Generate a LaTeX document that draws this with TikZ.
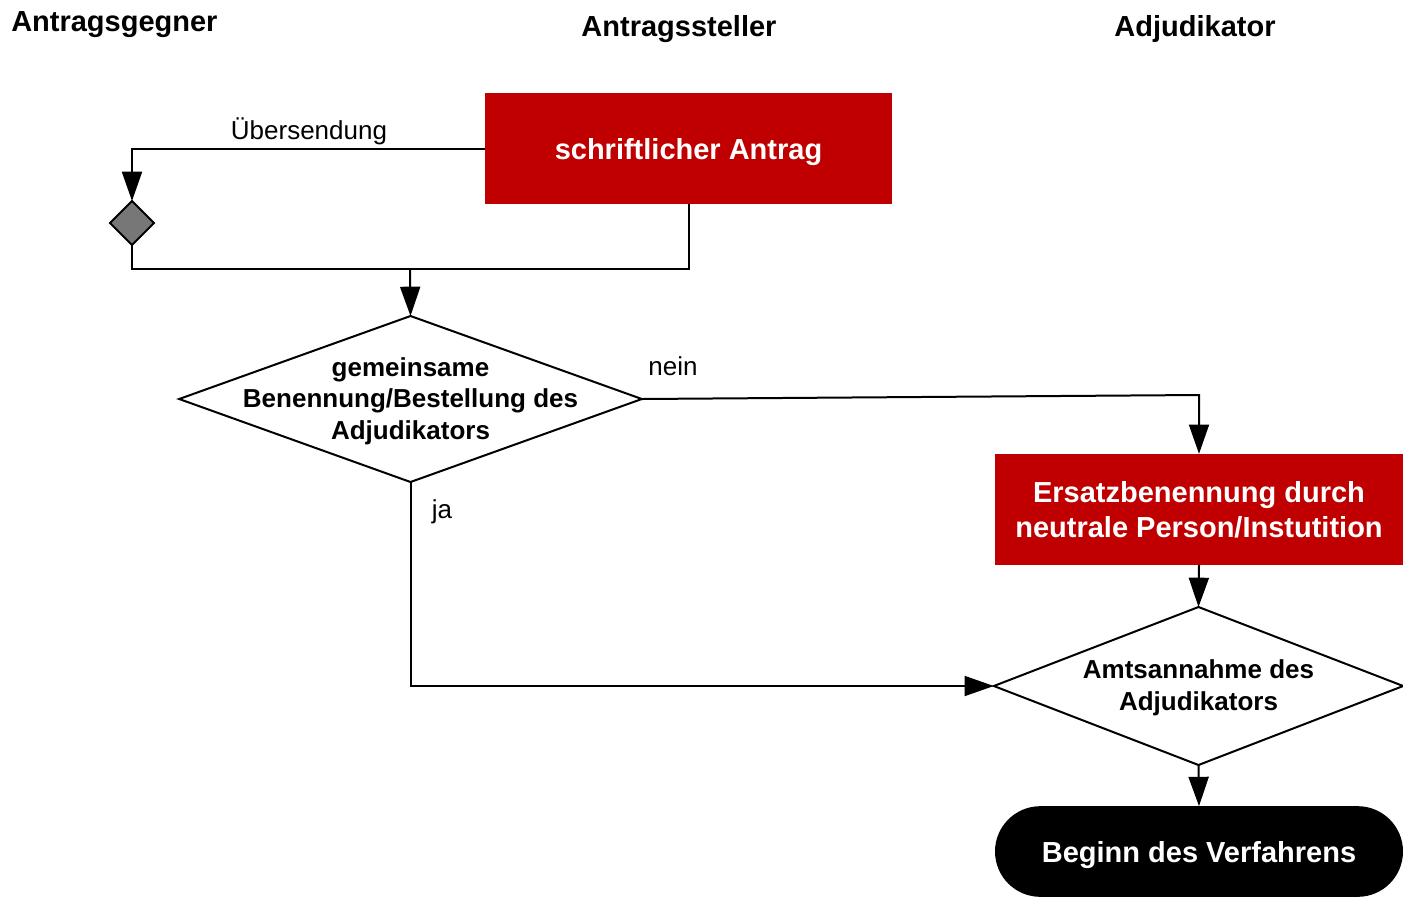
\documentclass[tikz,border=0pt]{standalone}
\usepackage{fontspec}
\setmainfont{Liberation Sans}
\usetikzlibrary{shapes.geometric,arrows.meta}
\definecolor{boxred}{HTML}{C00000}
\definecolor{decgray}{HTML}{777777}
\tikzset{
  conn/.style={line width=1.5pt, line join=miter},
  arr/.style={conn, -{Triangle[length=22pt,width=15pt]}},
  redbox/.style={rectangle, fill=boxred, text=white, font=\fontsize{21.75pt}{26.25pt}\selectfont\bfseries, align=center, inner sep=0pt, outer sep=0pt, minimum width=305.5pt, minimum height=83.5pt},
  decision/.style={diamond, draw=black, line width=1.5pt, fill=white, inner sep=0pt, outer sep=0pt},
  dtext/.style={font=\fontsize{19.5pt}{23.5pt}\selectfont\bfseries, align=center, inner sep=0pt},
  header/.style={font=\fontsize{21.75pt}{26pt}\selectfont\bfseries, inner sep=0pt, anchor=base},
  lbl/.style={font=\fontsize{19.5pt}{23pt}\selectfont, inner sep=0pt, anchor=base},
}
\begin{document}
\begin{tikzpicture}[x=0.75pt,y=-0.75pt]
\useasboundingbox (0,0) rectangle (1403,897);
% headers
\node[header, anchor=base west] (h1) at (11,31) {Antragsgegner};
\node[header] (h2) at (679,36) {Antragssteller};
\node[header] (h3) at (1195,36) {Adjudikator};
% nodes
\node[redbox, text height=20.5pt, text depth=4.6pt] (b1) at (688.5,148.5) {schriftlicher Antrag};
\node[decision, fill=decgray, minimum width=33pt, minimum height=33pt] (sd) at (132,223) {};
\node[decision, minimum width=347pt, minimum height=124.5pt] (d1) at (410.5,399) {};
\node[dtext] (d1t) at (410.5,401) {gemeinsame\\Benennung/Bestellung des\\Adjudikators};
\node[redbox] (b2) at (1199,509.5) {Ersatzbenennung durch\\neutrale Person/Instutition};
\node[decision, minimum width=307pt, minimum height=118.5pt] (d2) at (1198.5,686) {};
\node[dtext, text depth=0pt] (d2t) at (1198.5,685) {Amtsannahme des\\Adjudikators};
\node[rectangle, rounded corners=34pt, fill=black, text=white, minimum width=306pt, minimum height=68pt, inner sep=0pt, outer sep=0pt, text height=20.5pt, text depth=4.6pt, font=\fontsize{21.75pt}{26pt}\selectfont\bfseries] (end) at (1199,851.5) {Beginn des Verfahrens};
% coordinates
\coordinate (j) at (410,269);
\coordinate (n1) at (1199,395);
% connectors
\draw[arr] (b1.west) -| (sd.north);
\draw[conn] (sd.south) |- (j) -| (b1.south);
\draw[arr] (j) -- (d1.north);
\draw[arr] (d1.east) -- (n1) -- (b2.north);
\draw[arr] (d1.south) |- (d2.west);
\draw[arr] (b2.south) -- (d2.north);
\draw[arr] (d2.south) -- (end.north);
% labels
\node[lbl] (l1) at (309,139) {Übersendung};
\node[lbl] (l2) at (673,375) {nein};
\node[lbl] (l3) at (442,518) {ja};
\end{tikzpicture}
\end{document}
